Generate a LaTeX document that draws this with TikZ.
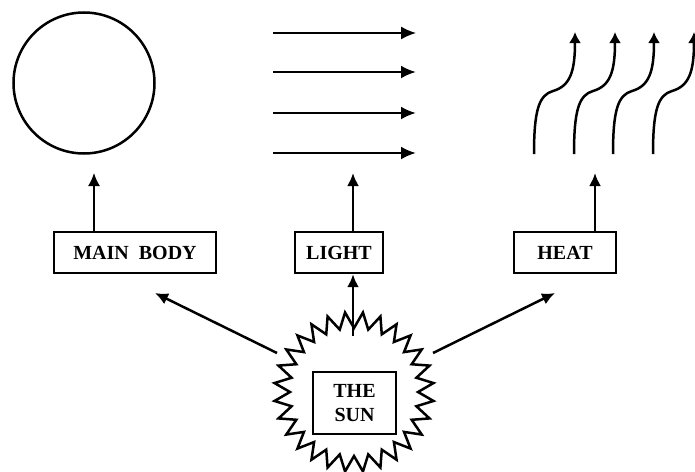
\documentclass[tikz,border=0pt]{standalone}
\usepackage{fontspec}
\setmainfont{Liberation Serif}
\usetikzlibrary{shapes.geometric,arrows.meta}
\begin{document}
\begin{tikzpicture}[x=1pt,y=-1pt,
  labelbox/.style={draw,line width=2.4pt,inner sep=0pt,font=\fontsize{20}{24}\selectfont\bfseries},
  bigarrow/.style={line width=2.5pt,-{Latex[length=13pt,width=12pt]}},
  thinarrow/.style={line width=1.6pt,-{Latex[length=13pt,width=12pt]}},
  wave/.style={line width=2.5pt,-{Latex[length=11pt,width=12pt]}}]
\useasboundingbox (0,0) rectangle (695,471);
% circle (main body)
\node[circle,draw,line width=2.5pt,minimum size=141pt,inner sep=0pt] (body) at (84,83) {};
% light rays
\foreach \yy/\w [count=\k] in {33/1.6,72/2.5,113/2.5,153/2.5}{
  \coordinate (ls\k) at (273,\yy);
  \coordinate (le\k) at (416,\yy);
  \draw[line width=\w pt,-{Latex[length=15pt,width=13pt]}] (ls\k) -- (le\k);
}
% heat waves
\foreach \b [count=\k] in {534,574,613,653}{
  \coordinate (hs\k) at (\b,154);
  \coordinate (he\k) at (\b+41,32);
  \draw[wave] (hs\k) .. controls (\b,110) and (\b+5,95) .. (\b+19,91)
     .. controls (\b+36,86) and (\b+41,72) .. (he\k);
}
% label boxes
\node[labelbox,minimum width=162pt,minimum height=41pt] (mainbody) at (135,252.5) {MAIN\ \ BODY};
\node[labelbox,minimum width=88pt,minimum height=41pt] (light) at (339,252.5) {LIGHT};
\node[labelbox,minimum width=102pt,minimum height=41pt] (heat) at (565,252.5) {HEAT};
% arrows from boxes up
\coordinate (mbtop) at (94,173);
\coordinate (lttop) at (353,173);
\coordinate (httop) at (595,173);
\draw[thinarrow] (mbtop |- mainbody.north) -- (mbtop);
\draw[bigarrow] (lttop |- light.north) -- (lttop);
\draw[bigarrow] (httop |- heat.north) -- (httop);
% the sun
\node[star,star points=28,star point ratio=0.8,minimum size=128pt,draw,line width=2.5pt,inner sep=0pt] (sun) at (354,392) {};
\node[labelbox,minimum width=83pt,minimum height=62pt,align=center] (sunbox) at (354.5,403) {THE\\SUN};
% arrows from the sun
\coordinate (sl) at (277,353);
\coordinate (sr) at (433,353);
\coordinate (sc) at (353,336);
\coordinate (tl) at (155,293);
\coordinate (tr) at (555,293);
\draw[bigarrow] (sl) -- (tl);
\draw[bigarrow] (sr) -- (tr);
\draw[bigarrow] (sc) -- (light.south -| sc);
\end{tikzpicture}
\end{document}
